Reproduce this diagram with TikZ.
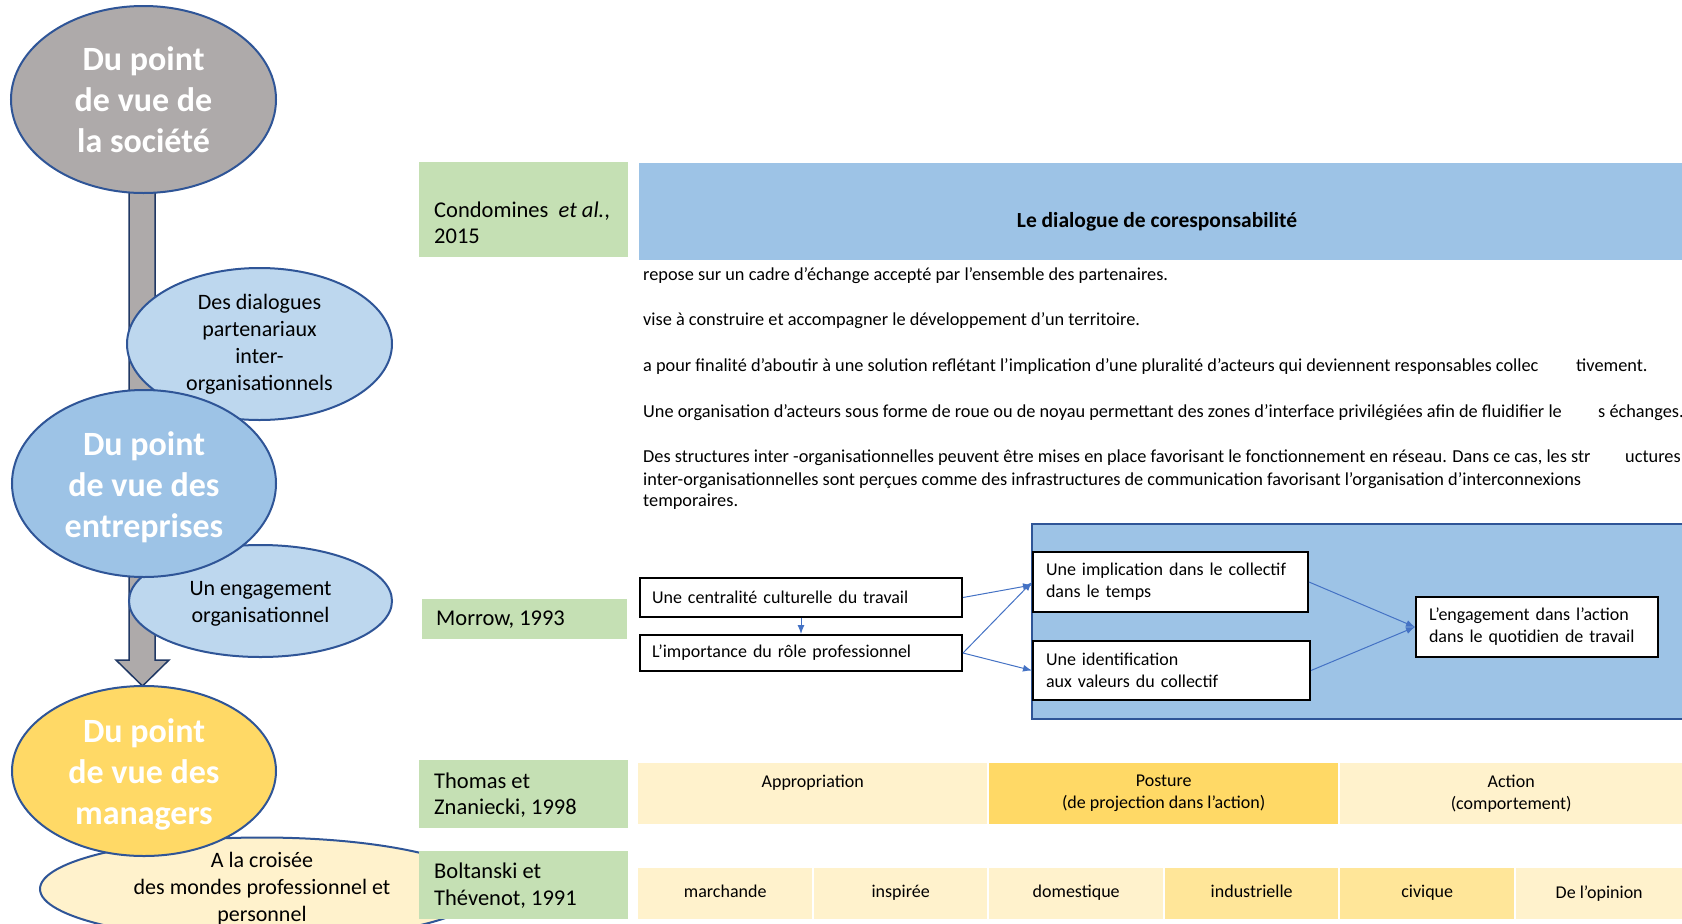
\documentclass[tikz,border=0pt]{standalone}
\usepackage{fontspec}
\setmainfont{Carlito}
\usetikzlibrary{shapes.geometric,arrows.meta}
\definecolor{ellborder}{HTML}{2F5597}
\definecolor{grayfill}{HTML}{AEAAAA}
\definecolor{bluefill}{HTML}{9DC3E6}
\definecolor{lightblue}{HTML}{BDD7EE}
\definecolor{yellowfill}{HTML}{FFD966}
\definecolor{lightyellow}{HTML}{FFF2CC}
\definecolor{midyellow}{HTML}{FFE699}
\definecolor{greenfill}{HTML}{C5E0B4}
\definecolor{arrowblue}{HTML}{4472C4}
\definecolor{darkarrow}{HTML}{203864}
\tikzset{
  bigell/.style={ellipse, draw=ellborder, line width=2pt, inner sep=0pt, text=white,
    font=\fontsize{34}{41}\selectfont\bfseries, align=center},
  smallell/.style={ellipse, draw=ellborder, line width=2pt, inner sep=0pt,
    font=\fontsize{22}{27}\selectfont, align=center},
  greenbox/.style={rectangle, fill=greenfill, inner sep=0pt, anchor=north west},
  reftext/.style={font=\fontsize{22.5}{26.5}\selectfont, align=left, anchor=west, inner sep=0pt},
  bodytext/.style={font=\fontsize{18.3}{22}\selectfont, anchor=base west, inner sep=0pt},
  flowbox/.style={rectangle, draw=black, line width=2pt, fill=white, anchor=north west,
    font=\fontsize{18}{22}\selectfont, align=left, inner xsep=12pt, inner ysep=0pt},
  cell/.style={rectangle, inner sep=0pt, anchor=north west,
    font=\fontsize{18}{22}\selectfont, align=center},
  flow/.style={draw=arrowblue, line width=1pt, -{Latex[length=9pt,width=7pt]}},
}
\newcommand{\lowerby}{\rule{0pt}{31pt}}
\begin{document}
\begin{tikzpicture}[x=1pt,y=-1pt]
\useasboundingbox (0,0) rectangle (1682,924);

% block arrow behind the ellipses
\draw[fill=grayfill, draw=darkarrow, line width=1.5pt, line join=miter]
  (129,180) -- (155,180) -- (155,660) -- (169,660) -- (142.5,686) -- (116,660) -- (129,660) -- cycle;

% left column ellipses
\node[bigell, fill=grayfill, minimum width=265, minimum height=187] (soc) at (143.5,99.5)
  {Du point\\de vue de\\la société};
\node[smallell, fill=lightblue, minimum width=265, minimum height=152] (dial) at (259.5,344)
  {Des dialogues\\partenariaux\\inter-\\organisationnels};
\node[smallell, fill=lightblue, minimum width=263, minimum height=112] (eng) at (260.5,601)
  {\rule{0pt}{20pt}Un engagement\\organisationnel};
\node[bigell, fill=bluefill, minimum width=264, minimum height=187] (ent) at (144,483.5)
  {\lowerby Du point\\de vue des\\entreprises};
\node[smallell, fill=lightyellow, minimum width=444, minimum height=98] (cro) at (262,889)
  {A la croisée\\des mondes professionnel et\\personnel};
\node[bigell, fill=yellowfill, minimum width=264, minimum height=170] (man) at (144,771)
  {\lowerby Du point\\de vue des\\managers};

% green reference boxes
\node[greenbox, minimum width=209, minimum height=95] (gcond) at (419,162) {};
\node[reftext] (tcond) at (434,223) {Condomines \ \textit{et al.},\\2015};
\node[greenbox, minimum width=205, minimum height=40] (gmor) at (422,599) {};
\node[reftext] (tmor) at (436,620) {Morrow, 1993};
\node[greenbox, minimum width=209, minimum height=68] (gtho) at (419,760) {};
\node[reftext] (ttho) at (434,795) {Thomas et\\Znaniecki, 1998};
\node[greenbox, minimum width=209, minimum height=68] (gbol) at (419,851) {};
\node[reftext] (tbol) at (434,885.5) {Boltanski et\\Thévenot, 1991};

% header
\node[rectangle, fill=bluefill, inner sep=0pt, anchor=north west, minimum width=1043, minimum height=97] (head) at (639,163) {};
\node[font=\fontsize{21.5}{24}\selectfont\bfseries, inner sep=0pt] (title) at (1157,222) {Le dialogue de coresponsabilité};

% body text
\node[bodytext] (t1) at (643,280) {repose sur un cadre d’échange accepté par l’ensemble des partenaires.};
\node[bodytext] (t2) at (643,325) {vise à construire et accompagner le développement d’un territoire.};
\node[bodytext] (t3a) at (643,371) {a pour finalité d’aboutir à une solution reflétant l’implication d’une pluralité d’acteurs qui deviennent responsables collec};
\node[bodytext] (t3b) at (1576,371) {tivement.};
\node[bodytext] (t4a) at (643,417) {Une organisation d’acteurs sous forme de roue ou de noyau permettant des zones d’interface privilégiées afin de fluidifier le};
\node[bodytext] (t4b) at (1598,417) {s échanges.};
\node[bodytext] (t5a) at (643,462) {Des structures inter -organisationnelles peuvent être mises en place favorisant le fonctionnement en réseau. Dans ce cas, les str};
\node[bodytext] (t5b) at (1625,462) {uctures};
\node[bodytext] (t6) at (643,485) {inter-organisationnelles sont perçues comme des infrastructures de communication favorisant l’organisation d’interconnexions};
\node[bodytext] (t7) at (643,506) {temporaires.};

% Morrow diagram
\node[rectangle, fill=bluefill, draw=ellborder, line width=2pt, anchor=north west, minimum width=651, minimum height=195, inner sep=0pt] (mbox) at (1031,523) {};
\node[flowbox, text width=298, minimum height=39] (cent) at (639,577) {Une centralité culturelle du travail};
\node[flowbox, text width=298, minimum height=36] (imp) at (639,634) {L’importance du rôle professionnel};
\node[flowbox, text width=249, minimum height=60, inner xsep=13pt] (coll) at (1032,551) {Une implication dans le collectif\\dans le temps};
\node[flowbox, text width=251, minimum height=59, inner xsep=13pt] (iden) at (1032,640) {Une identification\\aux valeurs du collectif};
\node[flowbox, text width=216, minimum height=60, inner xsep=13pt] (act) at (1415,596) {L’engagement dans l’action\\dans le quotidien de travail};

\draw[flow] (cent.south) -- (imp.north);
\draw[flow] (cent.east) -- ([yshift=-3pt]coll.west);
\draw[flow] (imp.east) -- (coll.west);
\draw[flow] (imp.east) -- (iden.west);
\draw[flow] (coll.east) -- (act.west);
\draw[flow] (iden.east) -- (act.west);

% Thomas row
\node[cell, fill=lightyellow, minimum width=349, minimum height=61] (c11) at (638,763) {Appropriation\\\phantom{(}};
\node[cell, fill=yellowfill, minimum width=349, minimum height=61] (c12) at (989,763) {Posture\\(de projection dans l’action)};
\node[cell, fill=lightyellow, minimum width=342, minimum height=61] (c13) at (1340,763) {Action\\(comportement)};

% Boltanski row
\node[cell, fill=lightyellow, minimum width=174, minimum height=51] (c21) at (638,868) {\raisebox{4pt}{marchande}};
\node[cell, fill=lightyellow, minimum width=173, minimum height=51] (c22) at (814,868) {\raisebox{4pt}{inspirée}};
\node[cell, fill=lightyellow, minimum width=174, minimum height=51] (c23) at (989,868) {\raisebox{4pt}{domestique}};
\node[cell, fill=midyellow, minimum width=173, minimum height=51] (c24) at (1165,868) {\raisebox{4pt}{industrielle}};
\node[cell, fill=midyellow, minimum width=174, minimum height=51] (c25) at (1340,868) {\raisebox{4pt}{civique}};
\node[cell, fill=lightyellow, minimum width=166, minimum height=51] (c26) at (1516,868) {\raisebox{4pt}{De l’opinion}};
\end{tikzpicture}
\end{document}
